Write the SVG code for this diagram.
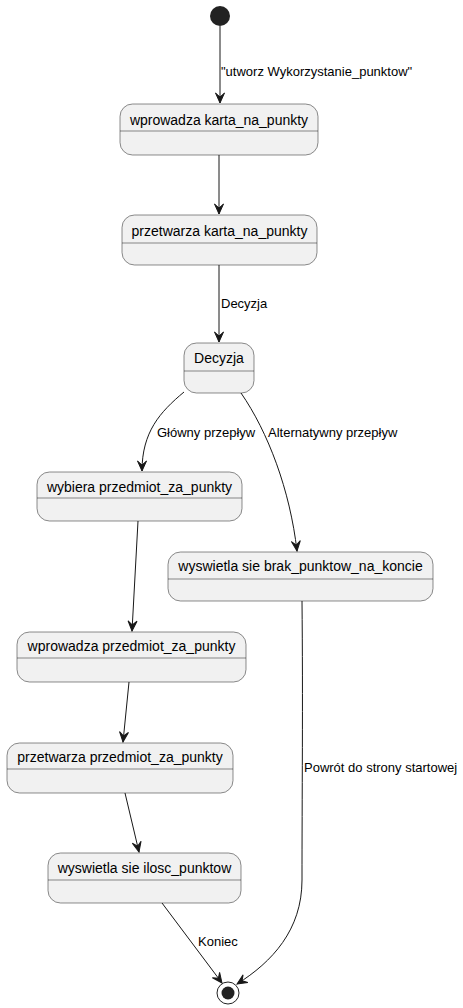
<svg xmlns="http://www.w3.org/2000/svg" width="463" height="1008" viewBox="0 0 463 1008">
<style>
.st{fill:#F1F1F1;stroke:#181818;stroke-width:0.5}
.sep{stroke:#181818;stroke-width:0.5}
.t{font-family:"Liberation Sans",Arial,sans-serif;font-size:14px;fill:#000;text-anchor:middle}
.l{font-family:"Liberation Sans",Arial,sans-serif;font-size:13px;fill:#000}
.e{fill:none;stroke:#181818;stroke-width:1;marker-end:url(#ah)}
</style>
<defs>
<marker id="ah" markerUnits="userSpaceOnUse" markerWidth="12" markerHeight="12" viewBox="-11 -6 12 12" refX="0" refY="0" orient="auto">
<path d="M0,0 L-10,-4.5 L-6,0 L-10,4.5 Z" fill="#181818" stroke="#181818" stroke-width="1"/>
</marker>
</defs>
<rect width="463" height="1008" fill="#FFFFFF"/>
<g id="connectors">
<path class="e" d="M220,26 L220,103"/>
<text class="l" x="221" y="76">"utworz Wykorzystanie_punktow"</text>
<path class="e" d="M219,155 L219,214"/>
<path class="e" d="M219,265 L219,342"/>
<text class="l" x="221" y="308">Decyzja</text>
<path class="e" d="M184,392 C160,412 142,432 142,471"/>
<text class="l" x="157" y="437">Główny przepływ</text>
<path class="e" d="M241,393 C268,432 290,490 297,551"/>
<text class="l" x="268" y="437">Alternatywny przepływ</text>
<path class="e" d="M138,521 L132,631"/>
<path class="e" d="M129,682 L123,742"/>
<path class="e" d="M125,793 L139,852"/>
<path class="e" d="M162,903 L222,983"/>
<text class="l" x="198" y="946">Koniec</text>
<path class="e" d="M302,601 C303,700 302,800 302,880 C302,930 272,962 237,984"/>
<text class="l" x="304" y="772">Powrót do strony startowej</text>
</g>
<g id="start"><circle cx="220" cy="16" r="10" fill="#222222"/></g>
<g id="n1">
<rect class="st" x="120" y="104" width="198" height="51" rx="12.5"/>
<line class="sep" x1="120" y1="131" x2="318" y2="131"/>
<text class="t" x="219" y="125">wprowadza karta_na_punkty</text>
</g>
<g id="n2">
<rect class="st" x="122" y="215" width="195" height="50" rx="12.5"/>
<line class="sep" x1="122" y1="243" x2="317" y2="243"/>
<text class="t" x="219.5" y="236">przetwarza karta_na_punkty</text>
</g>
<g id="n3">
<rect class="st" x="184" y="343" width="70" height="50" rx="12.5"/>
<line class="sep" x1="184" y1="371" x2="254" y2="371"/>
<text class="t" x="219" y="363">Decyzja</text>
</g>
<g id="n4">
<rect class="st" x="37" y="472" width="205" height="49" rx="12.5"/>
<line class="sep" x1="37" y1="498" x2="242" y2="498"/>
<text class="t" x="139.5" y="492">wybiera przedmiot_za_punkty</text>
</g>
<g id="n5">
<rect class="st" x="168" y="552" width="265" height="49" rx="12.5"/>
<line class="sep" x1="168" y1="579" x2="433" y2="579"/>
<text class="t" x="300.5" y="571">wyswietla sie brak_punktow_na_koncie</text>
</g>
<g id="n6">
<rect class="st" x="17" y="632" width="229" height="50" rx="12.5"/>
<line class="sep" x1="17" y1="658" x2="246" y2="658"/>
<text class="t" x="131.5" y="651">wprowadza przedmiot_za_punkty</text>
</g>
<g id="n7">
<rect class="st" x="7" y="743" width="226" height="50" rx="12.5"/>
<line class="sep" x1="7" y1="769" x2="233" y2="769"/>
<text class="t" x="120" y="762">przetwarza przedmiot_za_punkty</text>
</g>
<g id="n8">
<rect class="st" x="48" y="853" width="193" height="50" rx="12.5"/>
<line class="sep" x1="48" y1="880" x2="241" y2="880"/>
<text class="t" x="144.5" y="873">wyswietla sie ilosc_punktow</text>
</g>
<g id="end">
<circle cx="228" cy="993" r="11" fill="none" stroke="#222222" stroke-width="1"/>
<circle cx="228" cy="993" r="6.5" fill="#222222"/>
</g>
</svg>
